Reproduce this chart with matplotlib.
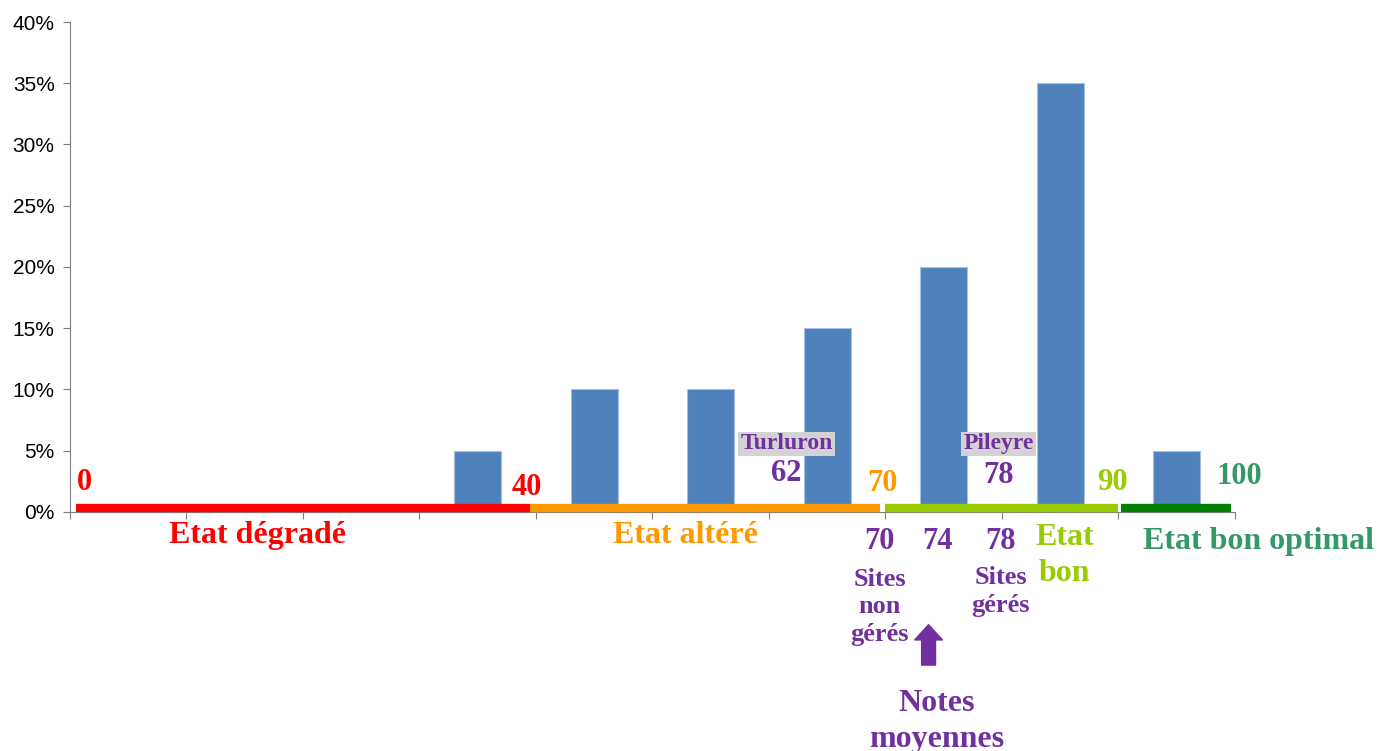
import matplotlib
matplotlib.use('Agg')
import matplotlib.pyplot as plt
from matplotlib.ticker import FuncFormatter, MultipleLocator

# share of sites per score class (0-10, 10-20, ... 90-100)
classes = ['0-10', '10-20', '20-30', '30-40', '40-50', '50-60', '60-70', '70-80', '80-90', '90-100']
shares = [0, 0, 0, 5, 10, 10, 15, 20, 35, 5]

# state bands along the score scale
band_start = [0, 40, 70, 90]
band_end = [40, 70, 90, 100]
band_colors = ['#FF0000', '#FF9900', '#99CC00', '#008000']

purple = '#7030A0'
serif = 'Liberation Serif'

fig = plt.figure(figsize=(13.8, 7.51), dpi=100)
ax = fig.add_axes([0.0507, 0.3183, 0.8442, 0.6524])

x = list(range(len(classes)))
ax.bar(x, shares, width=0.4, color='#4F81BD', edgecolor='#A7BFDE', linewidth=0.8, zorder=2)

ax.set_xlim(-0.5, 9.5)
ax.set_ylim(0, 40)
ax.yaxis.set_major_locator(MultipleLocator(5))
ax.yaxis.set_major_formatter(FuncFormatter(lambda v, p: '%d%%' % v))
ax.set_xticks([i - 0.5 for i in range(len(classes) + 1)])
ax.set_xticklabels([])
for s in ['top', 'right']:
    ax.spines[s].set_visible(False)
for s in ['left', 'bottom']:
    ax.spines[s].set_color('#7F7F7F')
ax.tick_params(axis='both', colors='#7F7F7F', length=5, direction='out')
ax.tick_params(axis='y', pad=6)
for lab in ax.get_yticklabels():
    lab.set_fontfamily('Liberation Sans')
    lab.set_fontsize(15)
    lab.set_color('black')

# score -> x position on the category axis
def sx(s):
    return s / 10.0 - 0.5

# small insets so the bands look like the hand-drawn ones
inset_l = [0.05, -0.05, 0.0, 0.02]
inset_r = [-0.05, -0.05, -0.005, -0.03]
for a, b, c, il, ir in zip(band_start, band_end, band_colors, inset_l, inset_r):
    ax.plot([sx(a) + il, sx(b) + ir], [0.33, 0.33], color=c, lw=6, solid_capstyle='butt',
            clip_on=False, zorder=3)

def t(xx, yy, s, color, size=22, ls=1.3, **kw):
    ax.text(xx, yy, s, color=color, fontsize=size, fontfamily=serif, fontweight='bold',
            ha='center', va='center', clip_on=False, linespacing=ls, **kw)

# score marks above the bands
t(-0.38, 2.4, '0', '#FF0000')
t(3.42, 2.0, '40', '#FF0000')
t(6.47, 2.3, '70', '#FF9900')
t(8.45, 2.4, '90', '#99CC00')
t(9.54, 2.9, '100', '#339966')

box = dict(boxstyle='square,pad=0.08', facecolor='#D3D3D3', edgecolor='none')
t(5.65, 5.55, 'Turluron', purple, size=17, bbox=box)
t(5.65, 3.1, '62', purple)
t(7.47, 5.55, 'Pileyre', purple, size=17, bbox=box)
t(7.47, 2.95, '78', purple)

# state names and averages below the axis
t(1.11, -1.9, 'Etat dégradé', '#FF0000', size=23)
t(4.78, -1.9, 'Etat altéré', '#FF9900', size=23)
t(6.45, -2.4, '70', purple)
t(6.45, -7.75, 'Sites\nnon\ngérés', purple, size=19, ls=1.25)
t(6.95, -2.4, '74', purple)
t(7.49, -2.4, '78', purple)
t(7.49, -6.5, 'Sites\ngérés', purple, size=19, ls=1.25)
t(8.04, -3.55, 'Etat\nbon', '#99CC00', size=23, ls=1.3)
t(9.70, -2.4, 'Etat bon optimal', '#339966', size=23)

ax.annotate('', xy=(6.87, -9.2), xytext=(6.87, -12.5), annotation_clip=False,
            arrowprops=dict(arrowstyle='simple,head_length=0.55,head_width=1.0,tail_width=0.5',
                            mutation_scale=20, color=purple, shrinkA=0, shrinkB=0))
t(6.94, -17.1, 'Notes\nmoyennes', purple, size=23, ls=1.3)

fig.savefig('out.png', dpi=100)
